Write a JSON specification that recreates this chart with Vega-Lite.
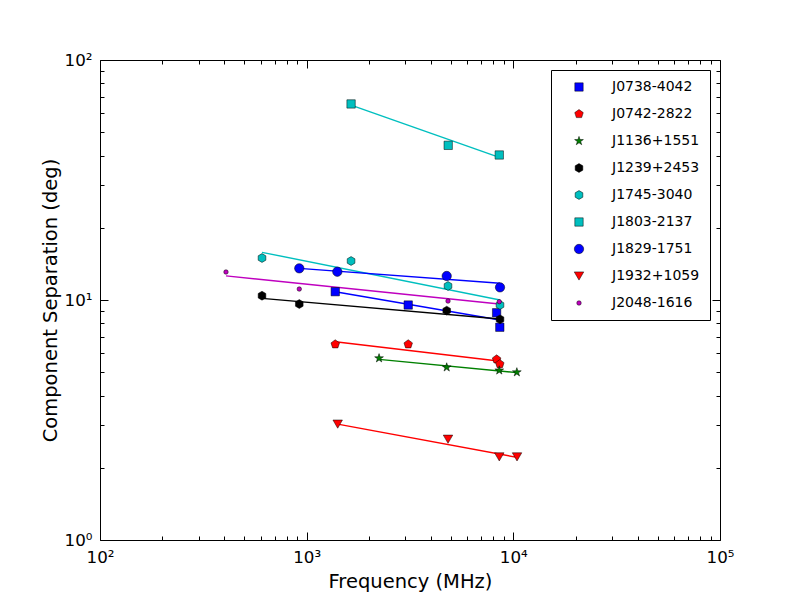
{
  "$schema": "https://vega.github.io/schema/vega-lite/v6.json",
  "width": 620,
  "height": 480,
  "autosize": {"type": "none"},
  "padding": {"left": 100, "top": 60, "right": 80, "bottom": 60},
  "background": "white",
  "config": {
    "view": {"stroke": "#000000", "strokeWidth": 1},
    "font": "DejaVu Sans",
    "axis": {"grid": false, "domain": false, "ticks": true, "tickColor": "#000000", "tickWidth": 1, "labelFont": "DejaVu Sans", "labelColor": "#000000", "titleFont": "DejaVu Sans", "titleColor": "#000000", "titleFontWeight": "normal", "labelOverlap": false, "labelFlush": false},
    "legend": {"orient": "top-right", "offset": 10, "strokeColor": "#000000", "fillColor": "#ffffff", "padding": 10, "cornerRadius": 0, "labelFont": "DejaVu Sans", "labelFontSize": 14, "labelColor": "#000000", "rowPadding": 13, "symbolOffset": 11, "labelOffset": 26, "symbolStrokeColor": "#000000", "symbolStrokeWidth": 0.5, "labelLimit": 200}
  },
  "datasets": {
    "points": [
      {"name": "J0738-4042", "freq": 1375, "sep": 10.83},
      {"name": "J0738-4042", "freq": 3100, "sep": 9.53},
      {"name": "J0738-4042", "freq": 8300, "sep": 8.85},
      {"name": "J0738-4042", "freq": 8600, "sep": 7.70},
      {"name": "J0742-2822", "freq": 1375, "sep": 6.54},
      {"name": "J0742-2822", "freq": 3100, "sep": 6.54},
      {"name": "J0742-2822", "freq": 8300, "sep": 5.66},
      {"name": "J0742-2822", "freq": 8600, "sep": 5.41},
      {"name": "J1136+1551", "freq": 2240, "sep": 5.72},
      {"name": "J1136+1551", "freq": 4760, "sep": 5.24},
      {"name": "J1136+1551", "freq": 8550, "sep": 5.09},
      {"name": "J1136+1551", "freq": 10400, "sep": 5.00},
      {"name": "J1239+2453", "freq": 608, "sep": 10.42},
      {"name": "J1239+2453", "freq": 921, "sep": 9.62},
      {"name": "J1239+2453", "freq": 4760, "sep": 9.03},
      {"name": "J1239+2453", "freq": 8620, "sep": 8.31},
      {"name": "J1745-3040", "freq": 608, "sep": 14.96},
      {"name": "J1745-3040", "freq": 1640, "sep": 14.54},
      {"name": "J1745-3040", "freq": 4830, "sep": 11.44},
      {"name": "J1745-3040", "freq": 8620, "sep": 9.53},
      {"name": "J1803-2137", "freq": 1640, "sep": 65.6},
      {"name": "J1803-2137", "freq": 4840, "sep": 44.1},
      {"name": "J1803-2137", "freq": 8550, "sep": 40.2},
      {"name": "J1829-1751", "freq": 921, "sep": 13.55},
      {"name": "J1829-1751", "freq": 1407, "sep": 13.12},
      {"name": "J1829-1751", "freq": 4760, "sep": 12.59},
      {"name": "J1829-1751", "freq": 8620, "sep": 11.29},
      {"name": "J1932+1059", "freq": 1413, "sep": 3.04},
      {"name": "J1932+1059", "freq": 4830, "sep": 2.63},
      {"name": "J1932+1059", "freq": 8550, "sep": 2.22},
      {"name": "J1932+1059", "freq": 10420, "sep": 2.22},
      {"name": "J2048-1616", "freq": 407, "sep": 13.08},
      {"name": "J2048-1616", "freq": 921, "sep": 11.11},
      {"name": "J2048-1616", "freq": 4830, "sep": 9.90},
      {"name": "J2048-1616", "freq": 8550, "sep": 9.84}
    ],
    "fits": [
      {"name": "J0738-4042", "freq": 1375, "sep": 10.83},
      {"name": "J0738-4042", "freq": 8600, "sep": 8.25},
      {"name": "J0742-2822", "freq": 1375, "sep": 6.70},
      {"name": "J0742-2822", "freq": 8450, "sep": 5.57},
      {"name": "J1136+1551", "freq": 2240, "sep": 5.66},
      {"name": "J1136+1551", "freq": 10400, "sep": 4.98},
      {"name": "J1239+2453", "freq": 608, "sep": 10.16},
      {"name": "J1239+2453", "freq": 8620, "sep": 8.33},
      {"name": "J1745-3040", "freq": 608, "sep": 15.8},
      {"name": "J1745-3040", "freq": 8620, "sep": 10.0},
      {"name": "J1803-2137", "freq": 1640, "sep": 64.9},
      {"name": "J1803-2137", "freq": 8550, "sep": 39.3},
      {"name": "J1829-1751", "freq": 921, "sep": 13.55},
      {"name": "J1829-1751", "freq": 8620, "sep": 11.74},
      {"name": "J1932+1059", "freq": 1413, "sep": 3.04},
      {"name": "J1932+1059", "freq": 10420, "sep": 2.21},
      {"name": "J2048-1616", "freq": 407, "sep": 12.6},
      {"name": "J2048-1616", "freq": 8550, "sep": 9.62}
    ]
  },
  "resolve": {"axis": {"x": "independent", "y": "independent"}},
  "layer": [
    {
      "data": {"name": "fits"},
      "mark": {"type": "line", "strokeWidth": 1.4},
      "encoding": {
        "x": {
          "field": "freq", "type": "quantitative",
          "scale": {"type": "log", "domain": [100, 100000], "nice": false},
          "axis": {
            "orient": "bottom",
            "title": "Frequency (MHz)",
            "titleFontSize": 19.5,
            "titleX": 310, "titleY": 47, "titleBaseline": "alphabetic", "titleAlign": "center",
            "values": [100,200,300,400,500,600,700,800,900,1000,2000,3000,4000,5000,6000,7000,8000,9000,10000,20000,30000,40000,50000,60000,70000,80000,90000,100000],
            "labelFontSize": 16.7,
            "labelPadding": 17,
            "tickSize": {"condition": {"test": "abs(log(datum.value)/LN10 - round(log(datum.value)/LN10)) < 0.001", "value": -8}, "value": -4},
            "labelExpr": "abs(log(datum.value)/LN10 - round(log(datum.value)/LN10)) < 0.001 ? '10' + ['⁰','¹','²','³','⁴','⁵'][round(log(datum.value)/LN10)] : ''"
          }
        },
        "y": {
          "field": "sep", "type": "quantitative",
          "scale": {"type": "log", "domain": [1, 100], "nice": false},
          "axis": {
            "orient": "left",
            "title": "Component Separation (deg)",
            "titleFontSize": 19.5,
            "titleX": -44, "titleY": 240, "titleAngle": -90, "titleBaseline": "alphabetic", "titleAlign": "center",
            "values": [1,2,3,4,5,6,7,8,9,10,20,30,40,50,60,70,80,90,100],
            "labelFontSize": 16.7,
            "labelPadding": 16,
            "tickSize": {"condition": {"test": "abs(log(datum.value)/LN10 - round(log(datum.value)/LN10)) < 0.001", "value": -8}, "value": -4},
            "labelExpr": "abs(log(datum.value)/LN10 - round(log(datum.value)/LN10)) < 0.001 ? '10' + ['⁰','¹','²','³','⁴','⁵'][round(log(datum.value)/LN10)] : ''"
          }
        },
        "stroke": {
          "field": "name", "type": "nominal",
          "scale": {"range": ["#0000ff","#ff0000","#008000","#000000","#00bfbf","#00bfbf","#0000ff","#ff0000","#bf00bf"]},
          "legend": null
        }
      }
    },
    {
      "data": {"name": "points"},
      "mark": {"type": "point", "filled": true, "opacity": 1, "stroke": "#000000", "strokeWidth": 0.5},
      "encoding": {
        "x": {
          "field": "freq", "type": "quantitative",
          "scale": {"type": "log", "domain": [100, 100000], "nice": false},
          "axis": {
            "orient": "top", "title": null, "labels": false,
            "values": [100,200,300,400,500,600,700,800,900,1000,2000,3000,4000,5000,6000,7000,8000,9000,10000,20000,30000,40000,50000,60000,70000,80000,90000,100000],
            "tickSize": {"condition": {"test": "abs(log(datum.value)/LN10 - round(log(datum.value)/LN10)) < 0.001", "value": -8}, "value": -4}
          }
        },
        "y": {
          "field": "sep", "type": "quantitative",
          "scale": {"type": "log", "domain": [1, 100], "nice": false},
          "axis": {
            "orient": "right", "title": null, "labels": false,
            "values": [1,2,3,4,5,6,7,8,9,10,20,30,40,50,60,70,80,90,100],
            "tickSize": {"condition": {"test": "abs(log(datum.value)/LN10 - round(log(datum.value)/LN10)) < 0.001", "value": -8}, "value": -4}
          }
        },
        "color": {
          "field": "name", "type": "nominal",
          "scale": {"domain": ["J0738-4042","J0742-2822","J1136+1551","J1239+2453","J1745-3040","J1803-2137","J1829-1751","J1932+1059","J2048-1616"],
                    "range": ["#0000ff","#ff0000","#008000","#000000","#00bfbf","#00bfbf","#0000ff","#ff0000","#bf00bf"]},
          "legend": {"title": null, "orient": "top-right"}
        },
        "shape": {
          "field": "name", "type": "nominal",
          "scale": {"domain": ["J0738-4042","J0742-2822","J1136+1551","J1239+2453","J1745-3040","J1803-2137","J1829-1751","J1932+1059","J2048-1616"],
                    "range": ["square",
                              "M0,-1L0.951,-0.309L0.588,0.809L-0.588,0.809L-0.951,-0.309Z",
                              "M0,-1L0.224,-0.308L0.951,-0.309L0.362,0.118L0.588,0.809L0,0.381L-0.588,0.809L-0.362,0.118L-0.951,-0.309L-0.224,-0.308Z",
                              "M0,-1L0.866,-0.5L0.866,0.5L0,1L-0.866,0.5L-0.866,-0.5Z",
                              "M0,-1L0.866,-0.5L0.866,0.5L0,1L-0.866,0.5L-0.866,-0.5Z",
                              "square", "circle", "triangle-down", "circle"]},
          "legend": {"title": null, "orient": "top-right"}
        },
        "size": {
          "field": "name", "type": "nominal",
          "scale": {"type": "ordinal", "domain": ["J0738-4042","J0742-2822","J1136+1551","J1239+2453","J1745-3040","J1803-2137","J1829-1751","J1932+1059","J2048-1616"],
                    "range": [70, 80, 85, 78, 78, 70, 88, 90, 20]},
          "legend": {"title": null, "orient": "top-right"}
        }
      }
    }
  ]
}
